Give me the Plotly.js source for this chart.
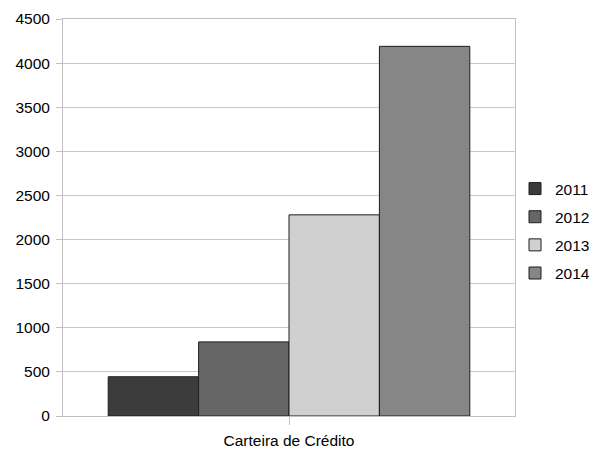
<!DOCTYPE html>
<html>
<head>
<meta charset="utf-8">
<script src="https://cdn.plot.ly/plotly-3.0.1.min.js"></script>
<style>html,body{margin:0;padding:0;background:#fff;}#chart{width:607px;height:454px;}</style>
</head>
<body>
<div id="chart"></div>
<script>
const categories = ["Carteira de Crédito"];
const seriesNames = ["2011", "2012", "2013", "2014"];
const values2011 = [445];
const values2012 = [840];
const values2013 = [2280];
const values2014 = [4190];
const seriesValues = [values2011, values2012, values2013, values2014];
const seriesColors = ["#3c3c3c", "#666666", "#d0d0d0", "#868686"];
const yTicks = [0, 500, 1000, 1500, 2000, 2500, 3000, 3500, 4000, 4500];

const traces = seriesNames.map((name, i) => ({
  type: "bar",
  name: name,
  x: categories,
  y: seriesValues[i],
  legendgroup: "g" + i,
  marker: { color: seriesColors[i], line: { color: "#1e1e1e", width: 1 } },
  hoverinfo: "none"
}));

const font = { family: "Liberation Sans, Arial, sans-serif", size: 15.5, color: "#000" };

const layout = {
  width: 607, height: 454,
  margin: { l: 63, r: 90, t: 19, b: 38 },
  paper_bgcolor: "#fff", plot_bgcolor: "#fff",
  font: font,
  barmode: "group",
  bargap: 0.2,
  bargroupgap: 0,
  showlegend: true,
  legend: {
    x: 1.0, xanchor: "left", y: 0.466, yanchor: "middle",
    traceorder: "grouped", tracegroupgap: 5,
    font: font, bgcolor: "rgba(0,0,0,0)"
  },
  xaxis: {
    type: "category",
    showline: true, linecolor: "#c0c0c0", linewidth: 1, mirror: true,
    ticks: "outside", ticklen: 8, tickcolor: "#c0c0c0",
    ticklabelstandoff: 2,
    showgrid: false, zeroline: false, tickfont: font
  },
  yaxis: {
    range: [0, 4500], tickvals: yTicks, ticktext: yTicks.map(String),
    showline: true, linecolor: "#c0c0c0", linewidth: 1, mirror: true,
    ticks: "outside", ticklen: 6, tickcolor: "#c0c0c0",
    ticklabelstandoff: 3,
    showgrid: true, gridcolor: "#c8c8c8", gridwidth: 1,
    zeroline: false, tickfont: font
  }
};

Plotly.newPlot("chart", traces, layout, { staticPlot: true, displayModeBar: false });
</script>
</body>
</html>
